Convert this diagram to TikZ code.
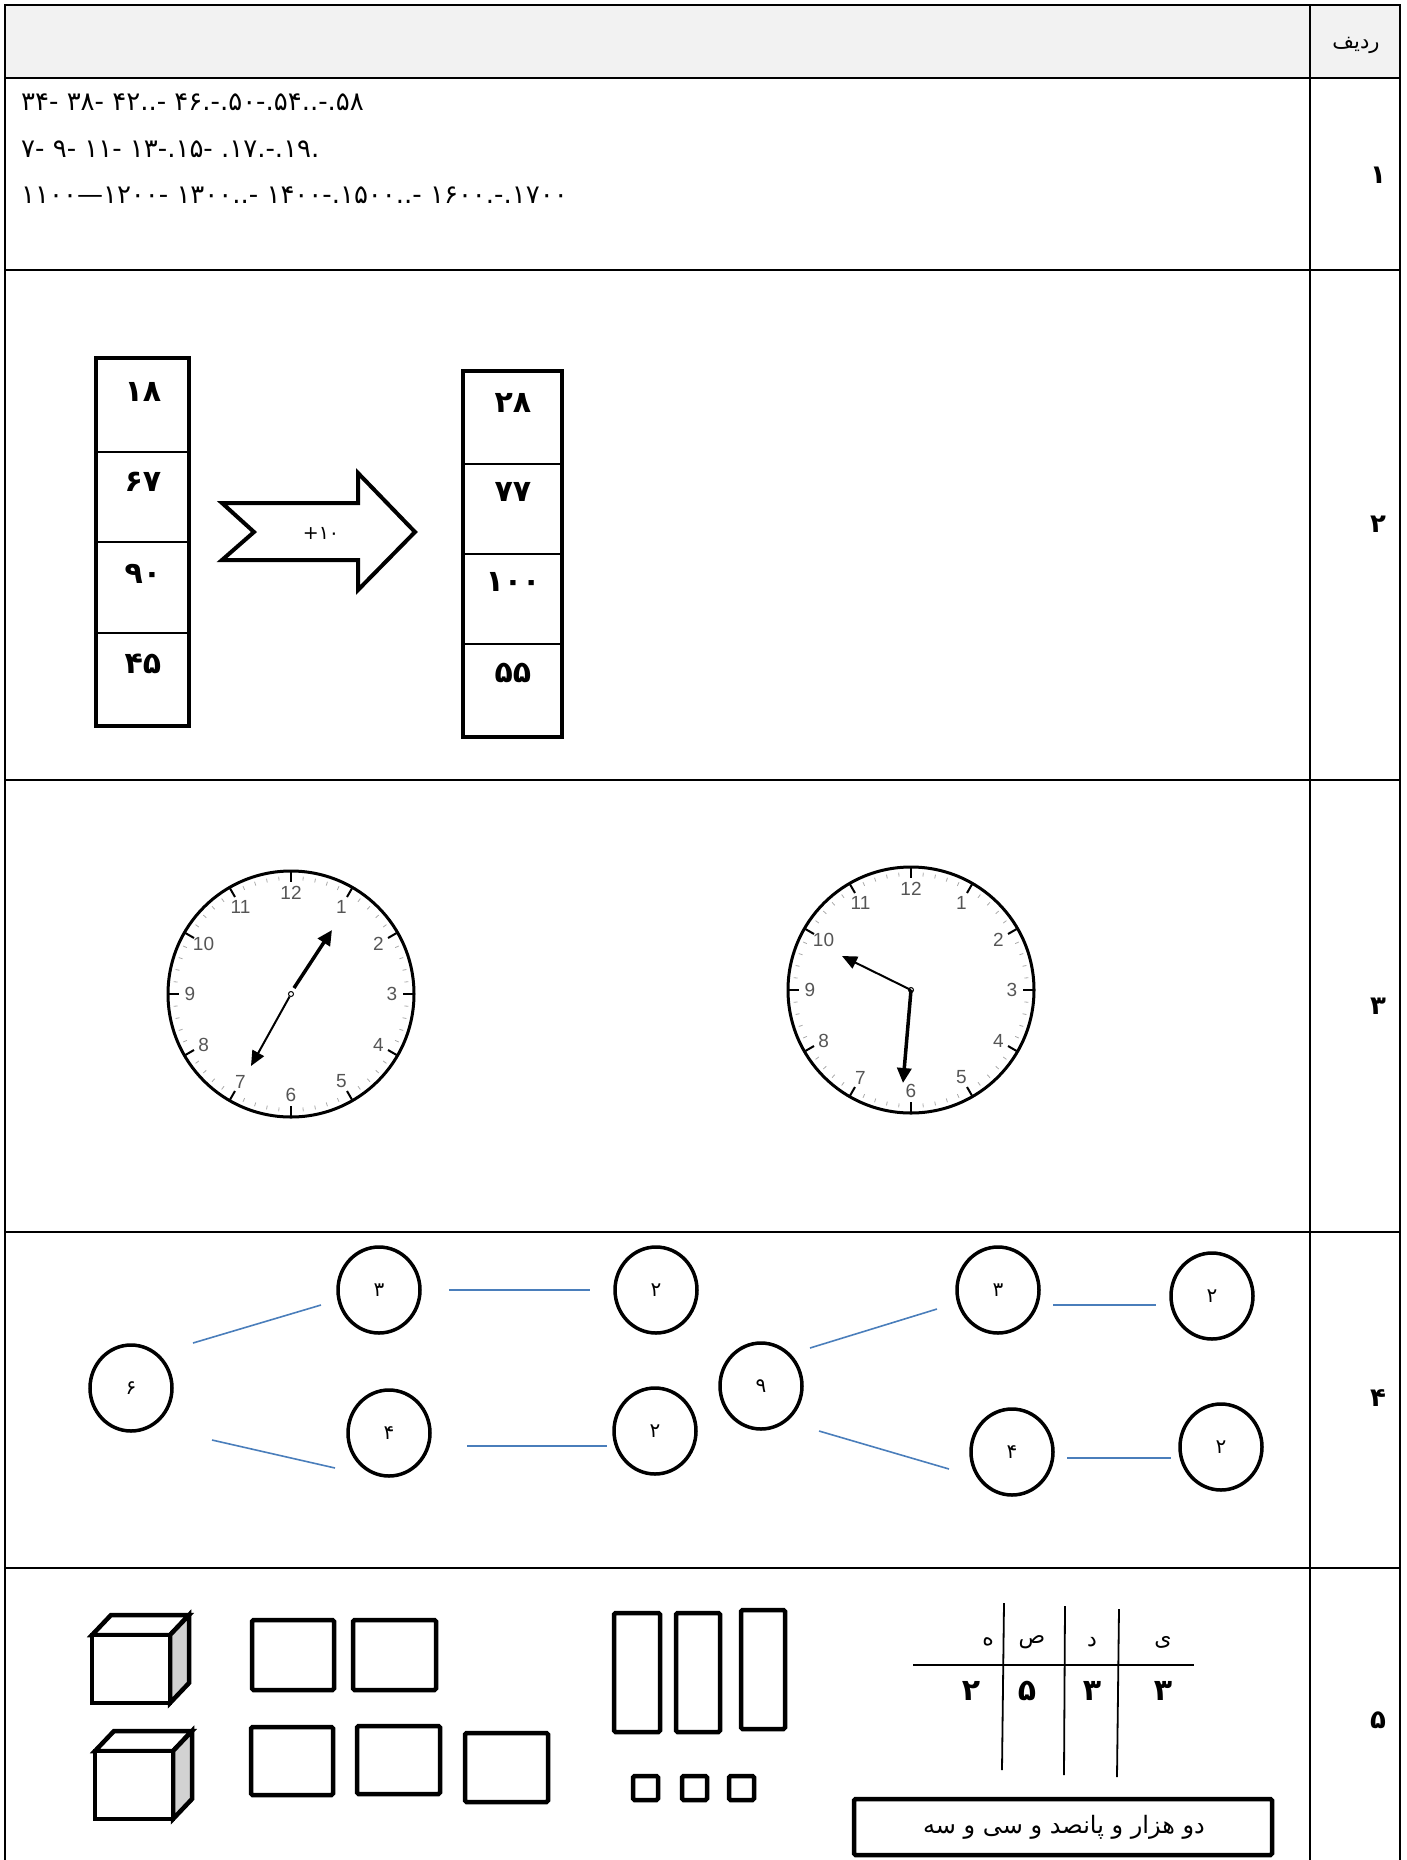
\documentclass[tikz,border=0pt]{standalone}
\usepackage{fontspec}
\setmainfont{DejaVu Sans}
\newfontfamily\farsi[Script=Arabic]{DejaVu Sans}
\newfontfamily\clockfont{Liberation Sans}
\TeXXeTstate=1
\usetikzlibrary{arrows.meta, shapes.geometric, calc}
\definecolor{headgray}{RGB}{242,242,242}
\definecolor{linkblue}{RGB}{74,126,187}
\definecolor{facegray}{RGB}{210,210,210}
\definecolor{numgray}{RGB}{85,85,85}
\definecolor{tickgray}{RGB}{170,170,170}

\begin{document}
\begin{tikzpicture}[x=1pt,y=1pt,yscale=-1,xscale=1,
  grid/.style={line width=2.5pt},
  colbox/.style={line width=4.5pt},
  cellline/.style={line width=1.5pt},
  bignum/.style={font=\farsi\bfseries\fontsize{30}{36}\selectfont, inner sep=0pt},
  rowlabel/.style={font=\farsi\bfseries\fontsize{26}{30}\selectfont, inner sep=0pt},
  seqtext/.style={font=\rmfamily\fontsize{26}{30}\selectfont, anchor=west, inner sep=0pt},
  clocknum/.style={font=\clockfont\fontsize{19}{21}\selectfont, text=numgray, inner sep=0pt},
  bubble/.style={ellipse, draw, line width=3.5pt, minimum width=82pt, minimum height=86pt, inner sep=0pt, font=\farsi\fontsize{20}{22}\selectfont},
  link/.style={draw=linkblue, line width=1.6pt},
  block/.style={line width=4.5pt, rounded corners=1.5pt},
  hourhand/.style={line width=3.5pt, -{Triangle[length=15pt,width=14pt]}},
  minhand/.style={line width=2pt, -{Triangle[length=15pt,width=13pt]}}]
\useasboundingbox (0,0) rectangle (1407,1860);

%Table: header fill and grid
\fill[headgray] (5,5) rectangle (1400,78);
\draw[grid] (5,1860) -- (5,5) -- (1400,5) -- (1400,1860);
\draw[grid] (1310,5) -- (1310,1860);
\foreach \y in {78,270,780,1232,1568}
  \draw[grid] (5,\y) -- (1400,\y);

% Text Node: header and row numbers
\node[font=\farsi\fontsize{21}{24}\selectfont] (head) at (1356,45) {\beginR ردیف\endR};
\node[rowlabel] (r1) at (1378,175) {۱};
\node[rowlabel] (r2) at (1378,524) {۲};
\node[rowlabel] (r3) at (1378,1006) {۳};
\node[rowlabel] (r4) at (1378,1398) {۴};
\node[rowlabel] (r5) at (1378,1720) {۵};

% Text Node: row 1 sequences
\node[seqtext] (seqa) at (21,102) {\beginR\beginL ۳۴- ۳۸- ۴۲..- ۴۶.-.۵۰-.۵۴..-.۵۸\endL\endR};
\node[seqtext] (seqb) at (21,149) {\beginR\beginL ۷- ۹- ۱۱- ۱۳-.۱۵- .۱۷.-.۱۹.\endL\endR};
\node[seqtext] (seqc) at (21,195) {\beginR\beginL ۱۱۰۰—۱۲۰۰- ۱۳۰۰..- ۱۴۰۰-.۱۵۰۰..- ۱۶۰۰.-.۱۷۰۰\endL\endR};

%Row 2: left column of numbers
\draw[colbox] (96,358) rectangle (189,726);
\foreach \y in {452,542,633}
  \draw[cellline] (96,\y) -- (189,\y);
\node[bignum] (inA) at (143,392) {۱۸};
\node[bignum] (inB) at (143,482) {۶۷};
\node[bignum] (inC) at (143,574) {۹۰};
\node[bignum] (inD) at (143,664) {۴۵};

%Row 2: right column of numbers
\draw[colbox] (463,371) rectangle (562,737);
\foreach \y in {464,554,644}
  \draw[cellline] (463,\y) -- (562,\y);
\node[bignum] (outA) at (513,403) {۲۸};
\node[bignum] (outB) at (513,492) {۷۷};
\node[bignum] (outC) at (513,582) {۱۰۰};
\node[bignum] (outD) at (513,673) {۵۵};

%Row 2: notched arrow
\draw[line width=4pt, line join=miter, fill=white] (222,503) -- (358,503) -- (358,473) -- (415,532) -- (358,590) -- (358,560) -- (222,560) -- (254,532) -- cycle;
\node[font=\rmfamily\fontsize{19}{21}\selectfont] (plus) at (321,533) {+۱۰};

%Row 3: clock faces
\foreach \cx/\cy in {291/994, 911/990} {
  \foreach \m in {0,...,59}
    \draw[tickgray, line width=0.8pt] (\cx,\cy) ++({6*\m}:118) -- ++({6*\m}:-4);
  \foreach \h in {1,...,12} {
    \draw[line width=2pt] (\cx,\cy) ++({30*\h-90}:123) -- ++({30*\h-90}:-11);
    \node[clocknum] at ($(\cx,\cy)+({30*\h-90}:101)$) {\h};
  }
  \draw[line width=3pt] (\cx,\cy) circle (123);
}
\node[circle, draw, line width=1pt, minimum size=5pt, inner sep=0pt, fill=white] (hubL) at (291,994) {};
\node[circle, draw, line width=1pt, minimum size=5pt, inner sep=0pt, fill=white] (hubR) at (911,990) {};
%Clock hands
\draw[hourhand] ([shift={(3,-6)}]hubL.center) -- ++(38,-58);
\draw[minhand] (hubL) -- ++(-40,72);
\draw[minhand] (hubR.center) -- ++(-69,-34);
\draw[hourhand] (hubR.center) -- ++(-8,93);

%Row 4: number bonds, left tree
\node[bubble] (six) at (131,1388) {۶};
\node[bubble] (threeL) at (379,1290) {۳};
\node[bubble] (fourL) at (389,1433) {۴};
\node[bubble] (twoLa) at (656,1290) {۲};
\node[bubble] (twoLb) at (655,1431) {۲};
\draw[link] ([shift={(62,-45)}]six.center) -- ([shift={(-58,15)}]threeL.center);
\draw[link] ([shift={(81,52)}]six.center) -- ([shift={(-54,35)}]fourL.center);
\draw[link] ([shift={(70,0)}]threeL.center) -- ([shift={(-66,0)}]twoLa.center);
\draw[link] ([shift={(78,13)}]fourL.center) -- ([shift={(-48,15)}]twoLb.center);

%Row 4: number bonds, right tree
\node[bubble] (nine) at (761,1386) {۹};
\node[bubble] (threeR) at (998,1290) {۳};
\node[bubble] (fourR) at (1012,1452) {۴};
\node[bubble] (twoRa) at (1212,1296) {۲};
\node[bubble] (twoRb) at (1221,1447) {۲};
\draw[link] ([shift={(49,-38)}]nine.center) -- ([shift={(-61,19)}]threeR.center);
\draw[link] ([shift={(58,45)}]nine.center) -- ([shift={(-63,17)}]fourR.center);
\draw[link] ([shift={(55,15)}]threeR.center) -- ([shift={(-56,9)}]twoRa.center);
\draw[link] ([shift={(55,6)}]fourR.center) -- ([shift={(-50,11)}]twoRb.center);

%Row 5: thousand cubes
\foreach \cx/\cy in {92/1635, 95/1751} {
  \draw[block, rounded corners=0pt, line join=miter] (\cx,\cy) -- ++(19,-20) -- ++(78,0) -- ++(-19,20) -- cycle;
  \draw[block, rounded corners=0pt, line join=miter, fill=facegray] (\cx+78,\cy) -- ++(19,-20) -- ++(0,68) -- ++(-19,20) -- cycle;
  \draw[block, rounded corners=0pt, line join=miter, fill=white] (\cx,\cy) rectangle ++(78,68);
}
%Hundred flats
\draw[block] (252,1620) rectangle (334,1690);
\draw[block] (353,1620) rectangle (436,1690);
\draw[block] (251,1727) rectangle (333,1795);
\draw[block] (357,1726) rectangle (440,1794);
\draw[block] (465,1733) rectangle (548,1802);
%Ten rods
\draw[block] (614,1613) rectangle (660,1732);
\draw[block] (676,1613) rectangle (720,1732);
\draw[block] (741,1610) rectangle (785,1729);
%Unit squares
\draw[block] (633,1776) rectangle (658,1800);
\draw[block] (682,1776) rectangle (707,1800);
\draw[block] (729,1776) rectangle (754,1800);

%Place value chart
\draw[line width=1.8pt] (913,1665) -- (1194,1665);
\draw[line width=1.8pt] (1004,1603) -- (1002,1770);
\draw[line width=1.8pt] (1065,1606) -- (1064,1775);
\draw[line width=1.8pt] (1119,1609) -- (1117,1777);
\node[font=\farsi\fontsize{22}{26}\selectfont] (pvA) at (988,1642) {ه};
\node[font=\farsi\fontsize{22}{26}\selectfont] (pvB) at (1032,1642) {ص};
\node[font=\farsi\fontsize{22}{26}\selectfont] (pvC) at (1092,1642) {د};
\node[font=\farsi\fontsize{22}{26}\selectfont] (pvD) at (1163,1642) {ی};
\node[bignum] (dgA) at (971,1691) {۲};
\node[bignum] (dgB) at (1027,1691) {۵};
\node[bignum] (dgC) at (1092,1691) {۳};
\node[bignum] (dgD) at (1163,1691) {۳};
\draw[line width=4.5pt, rounded corners=1.5pt] (854,1799) rectangle (1272,1855);
\node[font=\farsi\fontsize{24}{28}\selectfont] (words) at (1064,1827) {\beginR دو هزار و پانصد و سی و سه\endR};

\end{tikzpicture}
\end{document}
